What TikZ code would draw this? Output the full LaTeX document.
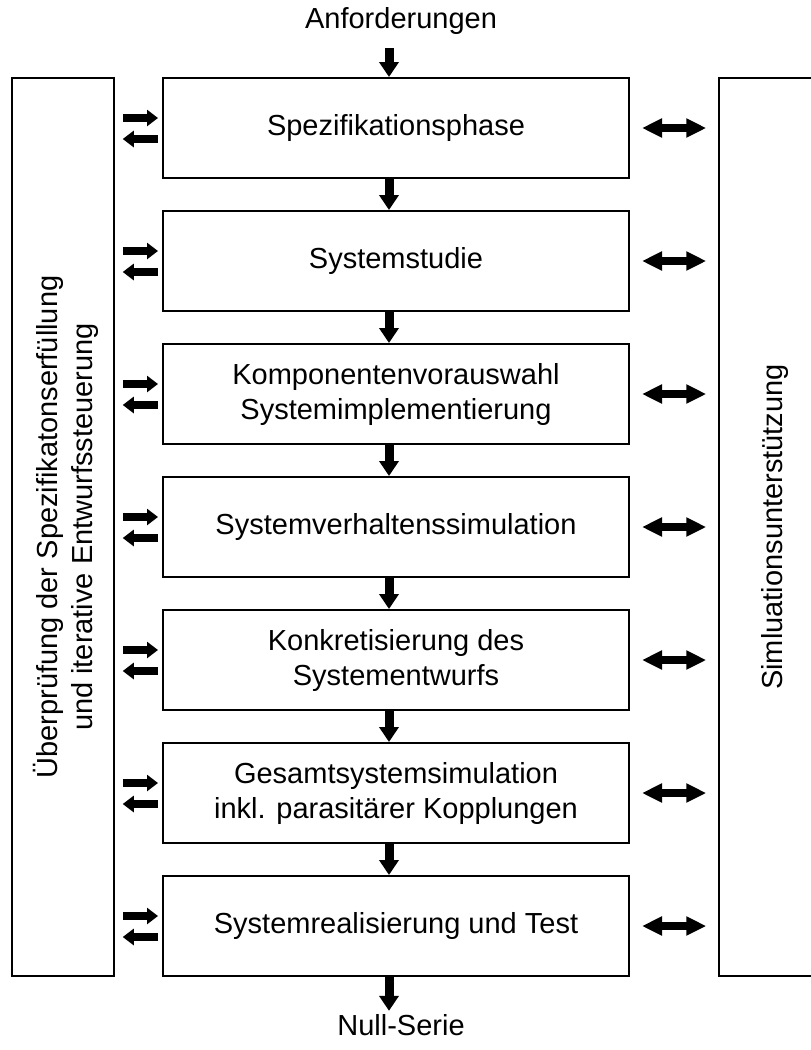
\documentclass[tikz,border=0pt]{standalone}
\usepackage{fontspec}
\setmainfont{Liberation Sans}
\usetikzlibrary{arrows.meta}
\begin{document}
\begin{tikzpicture}[x=1pt,y=1pt,
  font=\fontsize{29pt}{35pt}\selectfont,
  phase/.style={draw, line width=2pt, minimum width=466pt, minimum height=100pt, align=center, inner sep=0pt},
  sidebox/.style={draw, line width=1.5pt, minimum width=102pt, minimum height=898pt, inner sep=0pt},
  flow/.style={line width=9pt, -{Triangle[width=19pt,length=15pt]}},
  fb/.style={line width=8pt, -{Triangle[width=16pt,length=11pt]}},
  sim/.style={line width=8pt, {Triangle[width=18pt,length=20pt]}-{Triangle[width=18pt,length=20pt]}}]
\useasboundingbox (0,0) rectangle (811,-1050);
\node (anf) at (401,-21) {Anforderungen};
\node[phase] (b1) at (396,-128) {Spezifikationsphase};
\node[phase] (b2) at (396,-261) {Systemstudie};
\node[phase] (b3) at (396,-394) {Komponentenvorauswahl\\Systemimplementierung};
\node[phase] (b4) at (396,-527) {Systemverhaltenssimulation};
\node[phase] (b5) at (396,-660) {Konkretisierung des\\Systementwurfs};
\node[phase] (b6) at (396,-793) {Gesamtsystemsimulation\\inkl. parasitärer Kopplungen};
\node[phase] (b7) at (396,-926) {Systemrealisierung und Test};
\node (null) at (401,-1025) {Null-Serie};
\node[sidebox] (lbox) at (63,-527) {};
\node[rotate=90, align=center] (ltext) at (66,-527) {Überprüfung der Spezifikatonserfüllung\\und iterative Entwurfssteuerung};
\node[sidebox, minimum width=112pt] (rbox) at (775,-527) {};
\node[rotate=90] (rtext) at (rbox) {Simluationsunterstützung};
% Ablauf
\draw[flow, shorten <=10pt] ([xshift=-12pt]anf.south) -- ([xshift=-7pt]b1.north);
\foreach \a/\b in {b1/b2,b2/b3,b3/b4,b4/b5,b5/b6,b6/b7}
  \draw[flow] ([xshift=-7pt]\a.south) -- ([xshift=-7pt]\b.north);
\draw[flow] ([xshift=-7pt]b7.south) -- ([xshift=-12pt]null.north);
% Rueckkopplung und Simulation
\foreach \b in {b1,b2,b3,b4,b5,b6,b7} {
  \coordinate (\b u) at ([yshift=10pt]\b.west);
  \coordinate (\b d) at ([yshift=-11pt]\b.west);
  \draw[fb, shorten <=8pt, shorten >=4pt] (\b u -| lbox.east) -- (\b u);
  \draw[fb, shorten <=4pt, shorten >=8pt] (\b d) -- (\b d -| lbox.east);
  \draw[sim, shorten <=12pt, shorten >=12pt] (\b.east) -- (\b.east -| rbox.west);
}
\end{tikzpicture}
\end{document}
